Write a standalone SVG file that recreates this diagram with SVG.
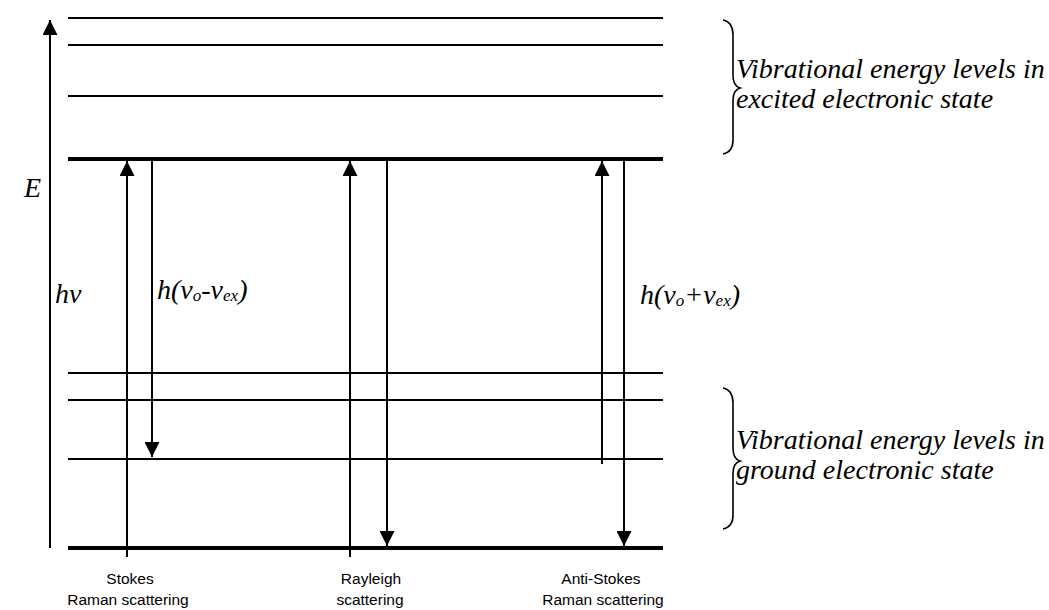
<svg xmlns="http://www.w3.org/2000/svg" width="1049" height="610" viewBox="0 0 1049 610">
<style>
.lv{stroke:#000;stroke-width:2}
.lvt{stroke:#000;stroke-width:4}
.ar{stroke:#000;stroke-width:2;fill:none}
.it{font-family:"Liberation Serif","Times New Roman",serif;font-style:italic;font-size:28px;fill:#000}
.lb{font-family:"Liberation Sans",Arial,sans-serif;font-size:15.5px;fill:#000;text-anchor:middle}
.br{stroke:#000;stroke-width:1.6;fill:none}
</style>
<defs>
<marker id="ahs" viewBox="0 0 10 10" refX="10" refY="5" markerWidth="16" markerHeight="15" markerUnits="userSpaceOnUse" orient="auto">
<path d="M0,0 L10,5 L0,10 Z" fill="#000"/>
</marker>
</defs>
<rect width="1049" height="610" fill="#fff"/>
<g id="excited-levels">
<line class="lv" x1="68" y1="18" x2="663" y2="18"/>
<line class="lv" x1="68" y1="45" x2="663" y2="45"/>
<line class="lv" x1="68" y1="96" x2="663" y2="96"/>
<line class="lvt" x1="68" y1="159" x2="663" y2="159"/>
</g>
<g id="ground-levels">
<line class="lv" x1="68" y1="373" x2="663" y2="373"/>
<line class="lv" x1="68" y1="400" x2="663" y2="400"/>
<line class="lv" x1="68" y1="459" x2="663" y2="459"/>
<line class="lvt" x1="68" y1="548" x2="663" y2="548"/>
</g>
<g id="connectors">
<line class="ar" x1="50" y1="548" x2="50" y2="20" marker-end="url(#ahs)"/>
<line class="ar" x1="127" y1="557" x2="127" y2="161" marker-end="url(#ahs)"/>
<line class="ar" x1="152" y1="161" x2="152" y2="457" marker-end="url(#ahs)"/>
<line class="ar" x1="350" y1="557" x2="350" y2="161" marker-end="url(#ahs)"/>
<line class="ar" x1="387" y1="161" x2="387" y2="546" marker-end="url(#ahs)"/>
<line class="ar" x1="602" y1="464" x2="602" y2="161" marker-end="url(#ahs)"/>
<line class="ar" x1="624" y1="161" x2="624" y2="546" marker-end="url(#ahs)"/>
</g>
<g id="brace-excited">
<path class="br" d="M723,20 Q733,22 733,35 L733,75 Q733,86 740,88 Q733,90 733,101 L733,140 Q733,152 723,154"/>
<text class="it" x="736" y="78">Vibrational energy levels in</text>
<text class="it" x="736" y="108">excited electronic state</text>
</g>
<g id="brace-ground">
<path class="br" d="M723,388 Q733,390 733,403 L733,448 Q733,459 740,461 Q733,463 733,474 L733,515 Q733,527 723,529"/>
<text class="it" x="736" y="449">Vibrational energy levels in</text>
<text class="it" x="736" y="479">ground electronic state</text>
</g>
<g id="axis-label">
<text class="it" x="24" y="197">E</text>
<text class="it" x="55" y="303">hν</text>
</g>
<g id="stokes-label">
<text class="it" x="157" y="299">h(ν<tspan font-size="17" dy="2">o</tspan><tspan dy="-2">-ν</tspan><tspan font-size="17" dy="2">ex</tspan><tspan dy="-2">)</tspan></text>
</g>
<g id="antistokes-label">
<text class="it" x="640" y="304">h(ν<tspan font-size="17" dy="2">o</tspan><tspan dy="-2">+ν</tspan><tspan font-size="17" dy="2">ex</tspan><tspan dy="-2">)</tspan></text>
</g>
<g id="bottom-labels">
<text class="lb" x="130" y="584">Stokes</text>
<text class="lb" x="128" y="605">Raman scattering</text>
<text class="lb" x="371" y="584">Rayleigh</text>
<text class="lb" x="370" y="605">scattering</text>
<text class="lb" x="601" y="584">Anti-Stokes</text>
<text class="lb" x="603" y="605">Raman scattering</text>
</g>
</svg>
